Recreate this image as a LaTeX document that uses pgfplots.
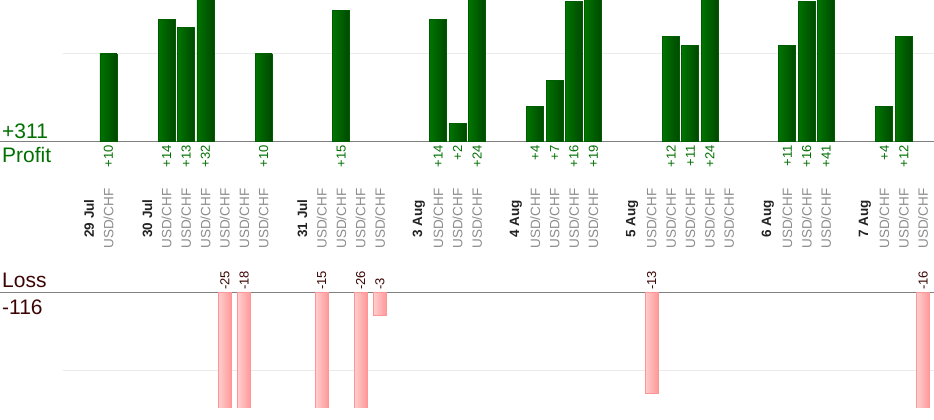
\documentclass[border=0pt]{standalone}
\usepackage{pgfplots}
\pgfplotsset{compat=1.18}
\usepackage{fontspec}
\setmainfont{Liberation Sans}
\definecolor{profitgreen}{RGB}{0,112,0}
\definecolor{profitleft}{RGB}{0,116,0}
\definecolor{profitright}{RGB}{0,72,0}
\definecolor{profitborder}{RGB}{0,92,0}
\definecolor{lossleft}{RGB}{255,206,206}
\definecolor{lossright}{RGB}{255,152,152}
\definecolor{lossborder}{RGB}{255,150,150}
\definecolor{lossdark}{RGB}{60,5,5}
\definecolor{catgray}{RGB}{140,140,140}
\definecolor{dategray}{RGB}{34,34,34}
\definecolor{gridgray}{RGB}{235,235,235}
\definecolor{basegray}{RGB}{128,128,128}
\pgfplotsset{
  pbar/.style={ybar, bar width=17pt, draw=profitborder, line width=0.8pt,
    left color=profitleft, right color=profitright},
  lbar/.style={ybar, bar width=13pt, draw=lossborder, line width=0.8pt,
    left color=lossleft, right color=lossright}}
\newcommand{\pbar}[2]{\addplot[pbar] coordinates {(#1,#2)};}
\newcommand{\lbar}[2]{\addplot[lbar] coordinates {(#1,#2)};}
\begin{document}
\begin{tikzpicture}
\path[use as bounding box] (0,0) rectangle (934pt,-420pt);
% ---- profit panel ----
\begin{axis}[at={(0,0)}, anchor=north west, scale only axis,
  width=934pt, height=141pt,
  xmin=-4.59, xmax=43.56, ymin=0, ymax=16.2,
  axis x line=bottom, axis y line=none,
  x axis line style={-, draw=basegray, line width=1pt},
  ytick=\empty, major tick length=0pt,
  xtick={1,4,5,6,9,13,18,19,20,23,24,25,26,30,31,32,36,37,38,41,42},
  xticklabels={+10,+14,+13,+32,+10,+15,+14,+2,+24,+4,+7,+16,+19,+12,+11,+24,+11,+16,+41,+4,+12},
  xticklabel style={rotate=90, anchor=east, text=profitgreen, inner sep=0pt, xshift=-4pt,
    font=\fontsize{13}{15}\selectfont},
  clip=true]
\draw[gridgray, line width=1pt] (axis cs:-1.34,10) -- (axis cs:43.56,10);
\pbar{1}{10}
\pbar{4}{14}
\pbar{5}{13}
\pbar{6}{32}
\pbar{9}{10}
\pbar{13}{15}
\pbar{18}{14}
\pbar{19}{2}
\pbar{20}{24}
\pbar{23}{4}
\pbar{24}{7}
\pbar{25}{16}
\pbar{26}{19}
\pbar{30}{12}
\pbar{31}{11}
\pbar{32}{24}
\pbar{36}{11}
\pbar{37}{16}
\pbar{38}{41}
\pbar{41}{4}
\pbar{42}{12}
\end{axis}
% ---- category labels ----
\begin{axis}[at={(0,-217.5pt)}, anchor=north west, scale only axis,
  width=934pt, height=1pt,
  xmin=-4.59, xmax=43.56, ymin=0, ymax=1,
  axis x line=bottom, axis y line=none,
  x axis line style={draw=none}, ytick=\empty, major tick length=0pt,
  xtick={0,1,3,4,5,6,7,8,9,11,12,13,14,15,17,18,19,20,22,23,24,25,26,28,29,30,31,32,33,35,36,37,38,40,41,42,43},
  xticklabels={{\color{dategray}\bfseries 29 Jul},USD/CHF,
    {\color{dategray}\bfseries 30 Jul},USD/CHF,USD/CHF,USD/CHF,USD/CHF,USD/CHF,USD/CHF,
    {\color{dategray}\bfseries 31 Jul},USD/CHF,USD/CHF,USD/CHF,USD/CHF,
    {\color{dategray}\bfseries 3 Aug},USD/CHF,USD/CHF,USD/CHF,
    {\color{dategray}\bfseries 4 Aug},USD/CHF,USD/CHF,USD/CHF,USD/CHF,
    {\color{dategray}\bfseries 5 Aug},USD/CHF,USD/CHF,USD/CHF,USD/CHF,USD/CHF,
    {\color{dategray}\bfseries 6 Aug},USD/CHF,USD/CHF,USD/CHF,
    {\color{dategray}\bfseries 7 Aug},USD/CHF,USD/CHF,USD/CHF},
  xticklabel style={rotate=90, anchor=center, text=catgray, inner sep=0pt,
    font=\fontsize{13.5}{15}\selectfont}]
\addplot[draw=none] coordinates {(0,0.5)};
\end{axis}
% ---- loss panel ----
\begin{axis}[at={(0,-292pt)}, anchor=north west, scale only axis,
  width=934pt, height=115pt,
  xmin=-4.59, xmax=43.56, ymin=-14.7, ymax=0,
  axis x line=top, axis y line=none,
  x axis line style={-, draw=basegray, line width=1pt},
  ytick=\empty, major tick length=0pt,
  xtick={7,8,12,14,15,29,43},
  xticklabels={-25,-18,-15,-26,-3,-13,-16},
  xticklabel style={rotate=90, anchor=west, text=lossdark, inner sep=0pt, xshift=2pt,
    font=\fontsize{13}{15}\selectfont},
  clip=true]
\draw[gridgray, line width=1pt] (axis cs:-1.34,-10) -- (axis cs:43.56,-10);
\lbar{7}{-25}
\lbar{8}{-18}
\lbar{12}{-15}
\lbar{14}{-26}
\lbar{15}{-3}
\lbar{29}{-13}
\lbar{43}{-16}
\end{axis}
% ---- totals ----
\node[anchor=base west, inner sep=0pt, text=profitgreen, font=\fontsize{21}{24}\selectfont] at (2pt,-138pt) {+311};
\node[anchor=base west, inner sep=0pt, text=profitgreen, font=\fontsize{21}{24}\selectfont] at (2pt,-162pt) {Profit};
\node[anchor=base west, inner sep=0pt, text=lossdark, font=\fontsize{21}{24}\selectfont] at (2pt,-287pt) {Loss};
\node[anchor=base west, inner sep=0pt, text=lossdark, font=\fontsize{21}{24}\selectfont] at (2pt,-314pt) {-116};
\end{tikzpicture}
\end{document}
